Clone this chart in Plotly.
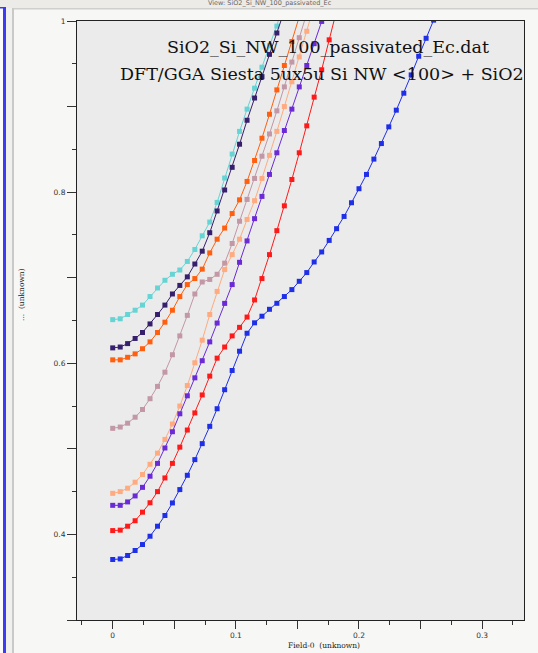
import plotly.graph_objects as go

# Applied field samples shared by every band (step = 0.2/33)
FIELD = [0.0000, 0.0061, 0.0121, 0.0182, 0.0242, 0.0303, 0.0364, 0.0424, 0.0485, 0.0545,
         0.0606, 0.0667, 0.0727, 0.0788, 0.0848, 0.0909, 0.0970, 0.1030, 0.1091, 0.1152,
         0.1212, 0.1273, 0.1333, 0.1394, 0.1455, 0.1515, 0.1576, 0.1636, 0.1697, 0.1758,
         0.1818, 0.1879, 0.1939, 0.2000, 0.2061, 0.2121, 0.2182, 0.2242, 0.2303, 0.2364,
         0.2424, 0.2485, 0.2545, 0.2606]

# Conduction-band levels (one list per state)
BAND_1 = [0.651, 0.652, 0.657, 0.662, 0.668, 0.678, 0.688, 0.697, 0.704, 0.709, 0.719, 0.733,
          0.749, 0.765, 0.788, 0.8165, 0.8445, 0.871, 0.897, 0.9215, 0.946, 0.971, 0.994, 1.02]
BAND_2 = [0.618, 0.619, 0.623, 0.629, 0.636, 0.646, 0.657, 0.668, 0.681, 0.691, 0.701, 0.716,
          0.731, 0.7526, 0.778, 0.8025, 0.829, 0.856, 0.884, 0.910, 0.935, 0.961, 0.986, 1.012]
BAND_3 = [0.604, 0.604, 0.607, 0.611, 0.617, 0.625, 0.636, 0.648, 0.662, 0.678, 0.692, 0.699,
          0.710, 0.729, 0.745, 0.758, 0.775, 0.791, 0.8125, 0.837, 0.863, 0.891, 0.9195, 0.948,
          0.976, 1.005]
BAND_4 = [0.524, 0.5255, 0.530, 0.537, 0.546, 0.5586, 0.573, 0.5896, 0.610, 0.632, 0.656, 0.681,
          0.695, 0.698, 0.704, 0.717, 0.740, 0.766, 0.7915, 0.816, 0.842, 0.868, 0.895, 0.923,
          0.952, 0.9805, 1.009]
BAND_5 = [0.448, 0.450, 0.454, 0.461, 0.470, 0.482, 0.495, 0.511, 0.529, 0.550, 0.574, 0.6006,
          0.627, 0.657, 0.684, 0.7095, 0.727, 0.745, 0.768, 0.790, 0.816, 0.843, 0.871, 0.900,
          0.929, 0.958, 0.988, 1.018]
BAND_6 = [0.434, 0.434, 0.438, 0.445, 0.455, 0.468, 0.483, 0.501, 0.520, 0.541, 0.562, 0.583,
          0.603, 0.625, 0.647, 0.670, 0.692, 0.718, 0.743, 0.769, 0.795, 0.8207, 0.846, 0.872,
          0.897, 0.923, 0.948, 0.9735, 0.9995]
BAND_7 = [0.4045, 0.405, 0.4096, 0.416, 0.426, 0.437, 0.450, 0.466, 0.483, 0.502, 0.522, 0.542,
          0.563, 0.585, 0.606, 0.619, 0.632, 0.642, 0.654, 0.674, 0.699, 0.727, 0.755, 0.784,
          0.8148, 0.846, 0.8775, 0.911, 0.943, 0.978, 1.012]
BAND_8 = [0.3707, 0.3714, 0.3754, 0.3812, 0.3882, 0.3979, 0.4096, 0.4221, 0.4368, 0.4524,
          0.4691, 0.4874, 0.5061, 0.5263, 0.5469, 0.5691, 0.5916, 0.6141, 0.6351, 0.6473,
          0.655, 0.6631, 0.6701, 0.678, 0.6861, 0.6958, 0.706, 0.7184, 0.7301, 0.7436,
          0.7573, 0.7716, 0.7876, 0.804, 0.8207, 0.8386, 0.8568, 0.8763, 0.8958, 0.9156,
          0.937, 0.9588, 0.9798, 1.001]

BANDS = [BAND_1, BAND_2, BAND_3, BAND_4, BAND_5, BAND_6, BAND_7, BAND_8]
COLORS = ["#66d4d4", "#36206e", "#ff5f0f", "#c297a6", "#ffaa7f", "#6a2bd6", "#ff1a1a", "#1f2fe8"]

X_TICKS = [0.0, 0.05, 0.1, 0.15, 0.2, 0.25, 0.3]
X_TICK_TEXT = ["0", "", "0.1", "", "0.2", "", "0.3"]
Y_TICKS = [0.3, 0.4, 0.5, 0.6, 0.7, 0.8, 0.9, 1.0]
Y_TICK_TEXT = ["", "0.4", "", "0.6", "", "0.8", "", "1"]
X_GRID = [0.0, 0.1, 0.2, 0.3]
Y_GRID = [0.4, 0.6, 0.8]

TITLE_1 = "SiO2_Si_NW_100_passivated_Ec.dat"
TITLE_2 = "DFT/GGA Siesta 5ux5u Si NW <100> + SiO2"
WINDOW_TITLE = "View: SiO2_Si_NW_100_passivated_Ec"

W, H = 538, 653
L, R, T, B = 77, 524, 21, 620
PW, PH = R - L, B - T


def px_x(px):
    return (px - L) / PW


def px_y(py):
    return (B - py) / PH


fig = go.Figure()
for band, color in zip(BANDS, COLORS):
    fig.add_trace(go.Scatter(
        x=FIELD[:len(band)], y=band, mode="lines+markers",
        line=dict(color=color, width=1),
        marker=dict(symbol="square", size=5, color=color, line=dict(width=0)),
        showlegend=False, hoverinfo="skip",
    ))

axis_font = dict(family="DejaVu Sans", size=7.5, color="#333333")
fig.update_layout(
    width=W, height=H, autosize=False,
    margin=dict(l=L, r=W - R, t=T, b=H - B),
    paper_bgcolor="#f7f7f5", plot_bgcolor="#ebebeb",
    xaxis=dict(range=[-0.029, 0.334], tickmode="array", tickvals=X_TICKS, ticktext=X_TICK_TEXT,
               ticks="outside", ticklen=8, tickwidth=1, tickcolor="#333333",
               showgrid=False, zeroline=False, showline=True, linecolor="#222222",
               linewidth=1, mirror=True, tickfont=axis_font,
               minor=dict(dtick=0.025, tick0=0, ticks="outside", ticklen=4,
                          tickcolor="#333333", showgrid=False)),
    yaxis=dict(range=[0.3, 1.0], tickmode="array", tickvals=Y_TICKS, ticktext=Y_TICK_TEXT,
               ticks="outside", ticklen=9, tickwidth=1, tickcolor="#333333",
               showgrid=False, zeroline=False, showline=True, linecolor="#222222",
               linewidth=1, mirror=True, tickfont=axis_font,
               minor=dict(dtick=0.05, tick0=0, ticks="outside", ticklen=4,
                          tickcolor="#333333", showgrid=False)),
    xaxis2=dict(overlaying="x", anchor="y", range=[-0.029, 0.334], tickmode="array",
                tickvals=X_GRID, showticklabels=False, ticks="", showgrid=True,
                gridcolor="#d9d9d9", gridwidth=1, zeroline=False, showline=False),
    yaxis2=dict(overlaying="y", anchor="x", range=[0.3, 1.0], tickmode="array",
                tickvals=Y_GRID, showticklabels=False, ticks="", showgrid=True,
                gridcolor="#dedede", gridwidth=1, zeroline=False, showline=False),
)

# Plot titles
title_font = dict(family="DejaVu Serif", size=17.5, color="#111111")
fig.add_annotation(text=TITLE_1, xref="paper", yref="paper", x=px_x(327.5), y=px_y(47),
                   xanchor="center", yanchor="middle", showarrow=False, font=title_font)
fig.add_annotation(text=TITLE_2, xref="paper", yref="paper", x=px_x(322), y=px_y(73.5),
                   xanchor="center", yanchor="middle", showarrow=False, font=title_font)

# Axis titles
label_font = dict(family="DejaVu Serif", size=7.5, color="#222222")
fig.add_annotation(text="Field-0  (unknown)", xref="paper", yref="paper", x=px_x(324),
                   y=px_y(645), xanchor="center", yanchor="middle", showarrow=False,
                   font=label_font)
fig.add_annotation(text="...  (unknown)", xref="paper", yref="paper", x=px_x(22),
                   y=px_y(295), xanchor="center", yanchor="middle", showarrow=False,
                   textangle=-90, font=label_font)

# Window frame around the plot view
frame = [
    dict(x0=0, x1=W, y0=0, y1=8, fill="#ecebe8"),
    dict(x0=12, x1=W, y0=8, y1=9.5, fill="#cfcfcd"),
    dict(x0=0, x1=3, y0=8, y1=H, fill="#fbfbfb"),
    dict(x0=3, x1=6, y0=7, y1=H, fill="#3c3cf5"),
    dict(x0=0, x1=6, y0=7, y1=8.5, fill="#3c3cf5"),
    dict(x0=6, x1=12, y0=8, y1=H, fill="#f0f0ee"),
    dict(x0=12, x1=14, y0=8, y1=H, fill="#c9c9c7"),
]
for f in frame:
    fig.add_shape(type="rect", xref="paper", yref="paper", layer="below",
                  x0=px_x(f["x0"]), x1=px_x(f["x1"]), y0=px_y(f["y1"]), y1=px_y(f["y0"]),
                  fillcolor=f["fill"], line=dict(width=0))
fig.add_annotation(text=WINDOW_TITLE, xref="paper", yref="paper", x=px_x(270), y=px_y(8),
                   xanchor="center", yanchor="bottom", showarrow=False, borderpad=0,
                   font=dict(family="DejaVu Sans", size=6.5, color="#666666"))

fig.write_html("out.html")
